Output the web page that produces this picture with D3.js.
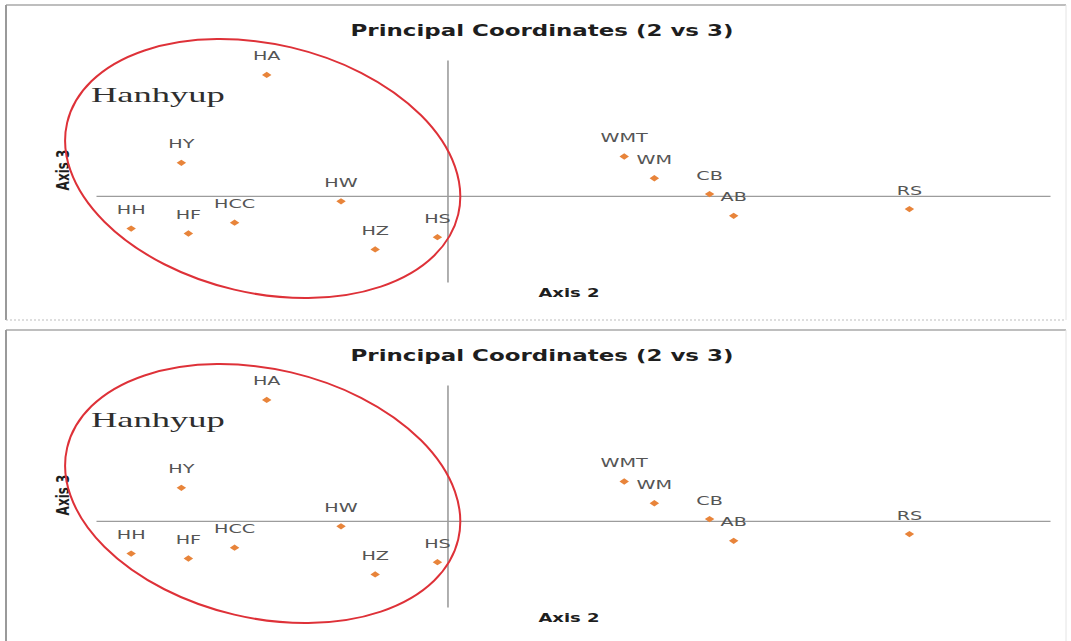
<!DOCTYPE html>
<html>
<head>
<meta charset="utf-8">
<script src="https://cdn.jsdelivr.net/npm/d3@7"></script>
<style>
  html, body { margin: 0; padding: 0; background: #ffffff; }
  svg { display: block; }
</style>
</head>
<body>
<svg id="chart" width="1071" height="641"></svg>
<script>
// Sample codes and their principal coordinate scores (axis 2 vs axis 3)
const sampleCodes = ["HA", "HY", "HW", "HH", "HF", "HCC", "HZ", "HS", "WMT", "WM", "CB", "AB", "RS"];
const axis2Scores = [-0.180, -0.265, -0.106, -0.315, -0.258, -0.212, -0.072, -0.010, 0.176, 0.206, 0.261, 0.285, 0.460];
const axis3Scores = [0.267, 0.073, -0.012, -0.072, -0.083, -0.059, -0.118, -0.091, 0.087, 0.039, 0.004, -0.044, -0.029];

// Axis extents
const axis2Domain = [-0.35, 0.60];
const axis3Domain = [-0.19, 0.30];

// Cluster outline (centre, semi-axes in score units, tilt in degrees)
const clusterName = "Hanhyup";
const clusterCentre = [-0.184, 0.0605];
const clusterRadii = [0.200, 0.2746];
const clusterTilt = 13.2;

const chartTitle = "Principal Coordinates (2 vs 3)";
const xTitle = "Axis 2";
const yTitle = "Axis 3";

// the chart is printed twice, one panel under the other
const panelOffsets = [0, 325];

const svg = d3.select("#chart");
const stretch = 1.5; // text and markers are widened horizontally

const plot = { left: 96, right: 1050, top: 60, bottom: 282 };

const x = d3.scaleLinear().domain(axis2Domain).range([plot.left, plot.right]);
const y = d3.scaleLinear().domain(axis3Domain).range([plot.bottom, plot.top]);

const points = sampleCodes.map((code, i) => ({ code, a2: axis2Scores[i], a3: axis3Scores[i] }));

function drawPanel(g) {
  // panel frame
  const fx0 = 6, fy0 = 5, fx1 = 1066, fy1 = 320;
  g.append("line").attr("x1", fx0).attr("y1", fy0).attr("x2", fx1).attr("y2", fy0)
    .attr("stroke", "#a8a8a8").attr("stroke-width", 1.5);
  g.append("line").attr("x1", fx0).attr("y1", fy0).attr("x2", fx0).attr("y2", fy1)
    .attr("stroke", "#9a9a9a").attr("stroke-width", 2);
  g.append("line").attr("x1", fx1).attr("y1", fy0).attr("x2", fx1).attr("y2", fy1)
    .attr("stroke", "#e4e4e4").attr("stroke-width", 1);
  g.append("line").attr("x1", fx0).attr("y1", fy1).attr("x2", fx1).attr("y2", fy1)
    .attr("stroke", "#bdbdbd").attr("stroke-width", 1).attr("stroke-dasharray", "2,2");

  // axes crossing at zero, without ticks
  const xAxis = d3.axisBottom(x).tickValues([]).tickSizeOuter(0);
  const yAxis = d3.axisLeft(y).tickValues([]).tickSizeOuter(0);
  g.append("g").attr("transform", `translate(0,${y(0)})`).call(xAxis)
    .select(".domain").attr("stroke", "#9c9c9c").attr("stroke-width", 1.2);
  g.append("g").attr("transform", `translate(${x(0)},0)`).call(yAxis)
    .select(".domain").attr("stroke", "#9c9c9c").attr("stroke-width", 1.6);

  // title
  g.append("text")
    .attr("transform", `translate(542,36) scale(1.53,1)`)
    .attr("text-anchor", "middle")
    .attr("font-family", "DejaVu Sans, Verdana, sans-serif")
    .attr("font-weight", "bold")
    .attr("font-size", 15)
    .attr("fill", "#1e1e1e")
    .text(chartTitle);

  // axis titles
  g.append("text")
    .attr("transform", `translate(569,297) scale(${stretch},1)`)
    .attr("text-anchor", "middle")
    .attr("font-family", "DejaVu Sans, Verdana, sans-serif")
    .attr("font-weight", "bold")
    .attr("font-size", 12)
    .attr("fill", "#1e1e1e")
    .text(xTitle);
  g.append("text")
    .attr("transform", `translate(69,170) scale(${stretch},1) rotate(-90)`)
    .attr("text-anchor", "middle")
    .attr("font-family", "DejaVu Sans, Verdana, sans-serif")
    .attr("font-weight", "bold")
    .attr("font-size", 12)
    .attr("fill", "#1e1e1e")
    .text(yTitle);

  // markers
  const diamond = d3.symbol().type(d3.symbolSquare).size(20);
  g.append("g").selectAll("path")
    .data(points)
    .join("path")
    .attr("d", diamond)
    .attr("transform", d => `translate(${x(d.a2)},${y(d.a3)}) scale(${stretch},1) rotate(45)`)
    .attr("fill", "#e8843a");

  // point labels, centred above each marker
  g.append("g").selectAll("text")
    .data(points)
    .join("text")
    .attr("transform", d => `translate(${x(d.a2)},${y(d.a3) - 14.5}) scale(1.6,1)`)
    .attr("text-anchor", "middle")
    .attr("font-family", "DejaVu Sans, Verdana, sans-serif")
    .attr("font-size", 12)
    .attr("fill", "#555555")
    .text(d => d.code);

  // cluster outline and name
  const cx = x(clusterCentre[0]), cy = y(clusterCentre[1]);
  g.append("ellipse")
    .attr("cx", cx).attr("cy", cy)
    .attr("rx", x(clusterCentre[0] + clusterRadii[0]) - cx)
    .attr("ry", cy - y(clusterCentre[1] + clusterRadii[1]))
    .attr("transform", `rotate(${clusterTilt},${cx},${cy})`)
    .attr("fill", "none")
    .attr("stroke", "#de3138")
    .attr("stroke-width", 2);

  g.append("text")
    .attr("transform", `translate(91,102) scale(1.66,1)`)
    .attr("font-family", "Liberation Serif, Times New Roman, serif")
    .attr("font-size", 22)
    .attr("fill", "#2e2e2e")
    .text(clusterName);
}

panelOffsets.forEach(off => {
  drawPanel(svg.append("g").attr("transform", `translate(0,${off})`));
});
</script>
</body>
</html>
